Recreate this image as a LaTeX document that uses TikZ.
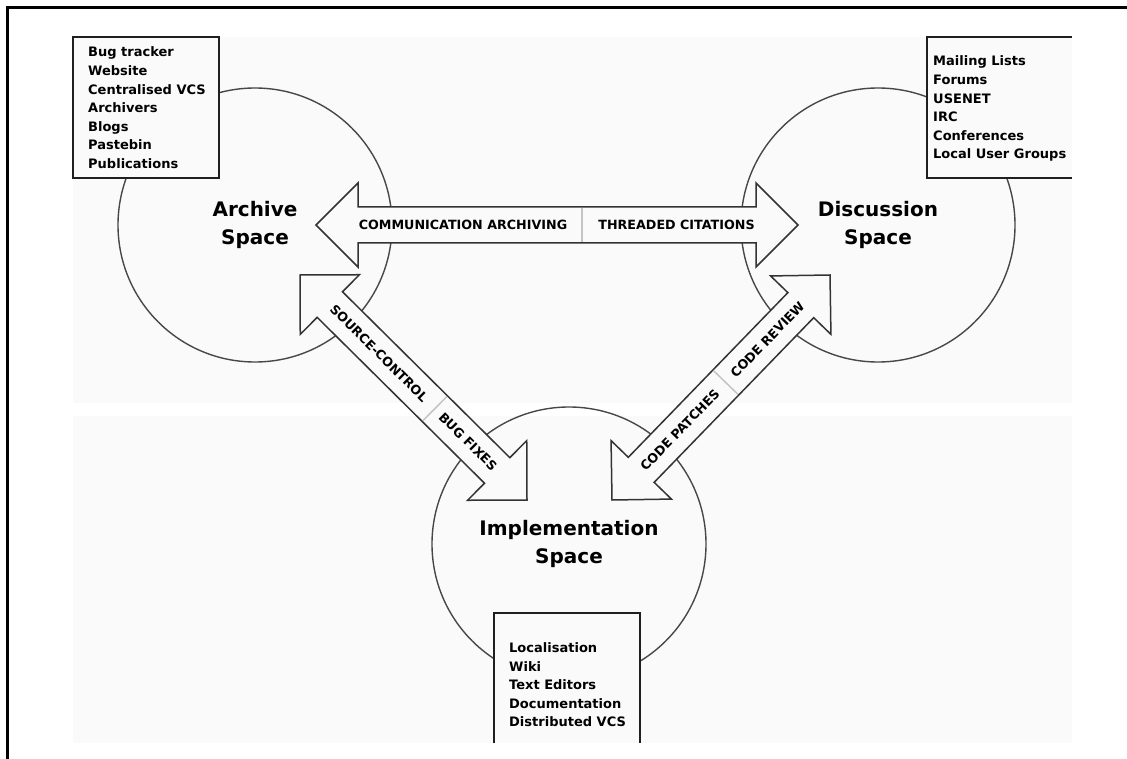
\documentclass[tikz,border=0pt]{standalone}
\usepackage{fontspec}
\setmainfont{DejaVu Sans}
\usetikzlibrary{calc}

\definecolor{paper}{HTML}{FAFAFA}
\definecolor{ink}{HTML}{333333}
\definecolor{rim}{HTML}{474747}
\definecolor{seam}{HTML}{C4C4C4}

% block double arrow between two tip points: heads 42 long, 84 wide, shaft 36 wide
\newcommand\doublearrowpath[2]{%
  \coordinate (m1) at ($(#1)!42pt!(#2)$);
  \coordinate (m2) at ($(#2)!42pt!(#1)$);
  \draw[arrowbody] (#1)
    -- ($(m1)!42pt!90:(#2)$) -- ($(m1)!18pt!90:(#2)$)
    -- ($(m2)!18pt!-90:(#1)$) -- ($(m2)!42pt!-90:(#1)$)
    -- (#2)
    -- ($(m2)!42pt!90:(#1)$) -- ($(m2)!18pt!90:(#1)$)
    -- ($(m1)!18pt!-90:(#2)$) -- ($(m1)!42pt!-90:(#2)$)
    -- cycle;}

\tikzset{
  space/.style={circle, draw=rim, line width=1.4pt, minimum size=274pt,
    inner sep=0pt, align=center, font=\bfseries\fontsize{20}{28}\selectfont},
  listbox/.style={fill=paper, draw=none, inner sep=0pt, anchor=north west},
  listrule/.style={draw=black!88, line width=2pt},
  listtext/.style={anchor=north west, inner sep=0pt, align=left,
    font=\bfseries\fontsize{13}{18.6}\selectfont},
  arrowbody/.style={fill=paper, draw=ink, line width=1.5pt, line join=miter},
  arrowlabel/.style={sloped, inner sep=0pt,
    font=\bfseries\fontsize{12.7}{14}\selectfont},
  seamline/.style={draw=seam, line width=1.5pt},
}

\begin{document}
\begin{tikzpicture}[x=1pt, y=-1pt]
\useasboundingbox (0,0) rectangle (1127,759);

% canvas
\fill[paper] (73,37) rectangle (1072,743);
\fill[white] (73,403) rectangle (1072,416);

% the three spaces
\node[space] (archive) at (255,225) {Archive\\Space};
\node[space] (discussion) at (878,225) {Discussion\\Space};
\node[space] (implementation) at (569,544) {Implementation\\Space};

% tool lists
\node[listbox, minimum width=146pt, minimum height=141pt] (archbox) at (73,37) {};
\draw[listrule] (archbox.north west) rectangle (archbox.south east);
\node[listtext] (archlist) at (88,46.8)
  {Bug tracker\\Website\\Centralised VCS\\Archivers\\Blogs\\Pastebin\\Publications};

\node[listbox, minimum width=145pt, minimum height=141pt] (discbox) at (927,37) {};
\draw[listrule] (discbox.north east) -- (discbox.north west)
  -- (discbox.south west) -- (discbox.south east);
\node[listtext] (disclist) at (933,55.8)
  {Mailing Lists\\Forums\\USENET\\IRC\\Conferences\\Local User Groups};

\node[listbox, minimum width=146pt, minimum height=130pt] (implbox) at (494,613) {};
\draw[listrule] (implbox.south west) -- (implbox.north west)
  -- (implbox.north east) -- (implbox.south east);
\node[listtext] (impllist) at (509,642.4)
  {Localisation\\Wiki\\Text Editors\\Documentation\\Distributed VCS};

% arrow tips
\coordinate (h-arc) at (316,225);
\coordinate (h-disc) at (798,225);
\coordinate (l-arc) at (300,275);
\coordinate (l-impl) at (527,500);
\coordinate (r-disc) at (830,275);
\coordinate (r-impl) at (612,500);

% archive <-> discussion
\doublearrowpath{h-arc}{h-disc}
\coordinate (h-seam) at ($(h-arc)!0.552!(h-disc)$);
\draw[seamline] ($(h-seam)!17pt!90:(h-disc)$) -- ($(h-seam)!17pt!-90:(h-disc)$);
\path (h-arc) -- (h-disc)
  node[arrowlabel, pos=0.305] (lab-comm) {COMMUNICATION ARCHIVING}
  node[arrowlabel, pos=0.748] (lab-thread) {THREADED CITATIONS};

% archive <-> implementation
\doublearrowpath{l-arc}{l-impl}
\coordinate (l-seam) at ($(l-arc)!0.594!(l-impl)$);
\draw[seamline] ($(l-seam)!17pt!90:(l-impl)$) -- ($(l-seam)!17pt!-90:(l-impl)$);
\path (l-arc) -- (l-impl)
  node[arrowlabel, pos=0.348] (lab-source) {SOURCE-CONTROL}
  node[arrowlabel, pos=0.74] (lab-bug) {BUG FIXES};

% discussion <-> implementation
\doublearrowpath{r-disc}{r-impl}
\coordinate (r-seam) at ($(r-disc)!0.478!(r-impl)$);
\draw[seamline] ($(r-seam)!17pt!90:(r-impl)$) -- ($(r-seam)!17pt!-90:(r-impl)$);
\path (r-disc) -- (r-impl)
  node[arrowlabel, pos=0.287] (lab-review) {CODE REVIEW}
  node[arrowlabel, pos=0.689] (lab-patch) {CODE PATCHES};

% frame
\draw[line width=2.5pt] (7.5,759) -- (7.5,7.5) -- (1127,7.5);
\end{tikzpicture}
\end{document}
